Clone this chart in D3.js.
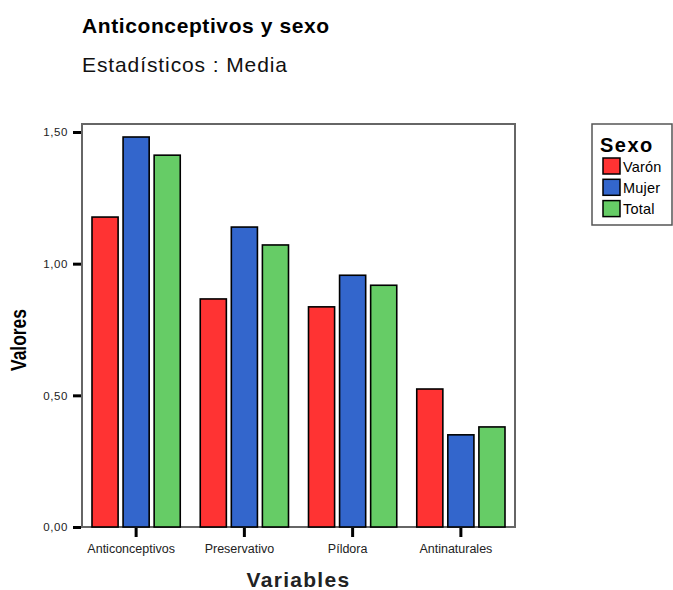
<!DOCTYPE html>
<html><head><meta charset="utf-8">
<script src="https://cdn.jsdelivr.net/npm/d3@7"></script>
<style>
body{margin:0;background:#fff;}
svg{display:block;font-family:"Liberation Sans",Arial,Helvetica,sans-serif;}
</style></head>
<body>
<svg id="c" width="673" height="590"></svg>
<script>
const categories = ["Anticonceptivos","Preservativo","Píldora","Antinaturales"];
const series = ["Varón","Mujer","Total"];
const varon = [1.177, 0.866, 0.836, 0.524];
const mujer = [1.481, 1.139, 0.956, 0.350];
const total = [1.412, 1.071, 0.918, 0.380];
const yTicks = [0, 0.5, 1.0, 1.5];
const colors = ["#ff3333","#3366cc","#66cc66"];

const values = [varon, mujer, total];
const svg = d3.select("#c");
const L = 82, R = 515, T = 124, B = 527;

const x0 = d3.scaleBand().domain(categories).range([L, R]).padding(0);
const x1 = d3.scaleBand().domain(series).range([10, x0.bandwidth()-10]).paddingInner(0.16).paddingOuter(0);
const y = d3.scaleLinear().domain([0, 1.5]).range([B, 132]);
const loc = d3.formatLocale({decimal:",", thousands:".", grouping:[3], currency:["","€"]});
const fmt = loc.format(".2f");

// frame
svg.append("rect").attr("x", L).attr("y", T).attr("width", R-L).attr("height", B-T)
  .attr("fill","none").attr("stroke","#666").attr("stroke-width",2);

// bars
const g = svg.append("g");
categories.forEach((c, i) => {
  series.forEach((s, j) => {
    g.append("rect")
      .attr("x", x0(c) + x1(s))
      .attr("y", y(values[j][i]))
      .attr("width", x1.bandwidth())
      .attr("height", y(0) - y(values[j][i]))
      .attr("fill", colors[j]).attr("stroke", "#000").attr("stroke-width", 1.6);
  });
});

// y axis
const ya = svg.append("g").attr("transform", `translate(${L-1},0)`)
  .call(d3.axisLeft(y).tickValues(yTicks).tickFormat(fmt).tickSize(8).tickPadding(5));
ya.select(".domain").remove();
ya.selectAll(".tick line").attr("stroke","#000").attr("stroke-width",3);
ya.selectAll(".tick text").attr("font-size","11.5px").attr("fill","#222")
  .attr("font-family","Liberation Sans, Arial, sans-serif").style("letter-spacing","0.6px");

// x axis
const xa = svg.append("g").attr("transform", `translate(0,${B+1})`)
  .call(d3.axisBottom(x0).tickSize(9).tickPadding(7));
xa.select(".domain").remove();
xa.selectAll(".tick line").attr("stroke","#000").attr("stroke-width",3);
xa.selectAll(".tick text").attr("font-size","12.5px").attr("fill","#222").attr("dx", -5)
  .attr("font-family","Liberation Sans, Arial, sans-serif");

// titles
svg.append("text").attr("x", 82).attr("y", 33).attr("font-size","21px").attr("font-weight","bold")
  .style("letter-spacing","0.6px").text("Anticonceptivos y sexo");
svg.append("text").attr("x", 82).attr("y", 72).attr("font-size","21px")
  .style("letter-spacing","0.9px").attr("fill","#111").text("Estadísticos : Media");

// axis titles
svg.append("text").attr("x", (L+R)/2).attr("y", 587).attr("text-anchor","middle")
  .attr("font-size","21px").attr("font-weight","bold").style("letter-spacing","1.3px").attr("fill","#222").text("Variables");
svg.append("text").attr("transform","translate(26,340) rotate(-90)").attr("text-anchor","middle")
  .attr("font-size","22px").attr("font-weight","bold")
  .attr("textLength", 62).attr("lengthAdjust","spacingAndGlyphs").text("Valores");

// legend
const lg = svg.append("g");
lg.append("rect").attr("x",592).attr("y",124).attr("width",80).attr("height",101)
  .attr("fill","#fff").attr("stroke","#555").attr("stroke-width",1.5);
lg.append("text").attr("x",600).attr("y",152).attr("font-size","20px").attr("font-weight","bold")
  .style("letter-spacing","1.5px").text("Sexo");
series.forEach((s, j) => {
  lg.append("rect").attr("x",603).attr("y",158 + j*21.3).attr("width",17).attr("height",16)
    .attr("fill",colors[j]).attr("stroke","#000").attr("stroke-width",1.5);
  lg.append("text").attr("x",623).attr("y",171.5 + j*21.3).attr("font-size","14.5px")
    .style("letter-spacing","0.2px").text(s);
});
</script>
</body></html>
